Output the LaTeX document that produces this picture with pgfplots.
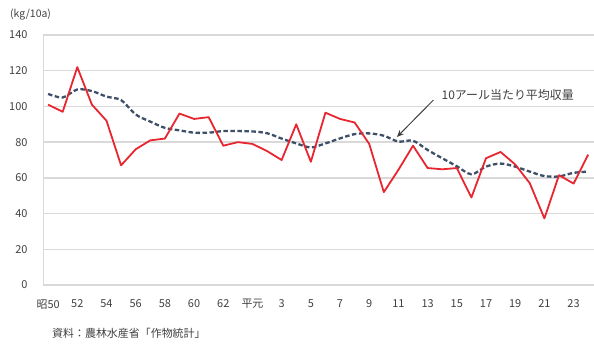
\documentclass[border=0pt]{standalone}
\usepackage{pgfplots}
\pgfplotsset{compat=1.18}
\usetikzlibrary{arrows.meta}
\usepackage{fontspec}
\setmainfont{Noto Sans CJK JP}

\definecolor{yieldred}{RGB}{232,38,48}
\definecolor{avgblue}{RGB}{62,80,104}
\definecolor{gridgray}{RGB}{217,217,217}
\definecolor{labelgray}{RGB}{64,64,64}

% 10a yield by year, Showa 50 (index 0) to Heisei 24 (index 37)
\pgfplotstableread{
idx actual average
0  101 107
1  97  105
2  122 109.5
3  101 108.6
4  92  105.5
5  67  103.5
6  76  95.5
7  81  91.5
8  82  88
9  96  86.6
10 93  85.3
11 94  85.3
12 78  86.2
13 80  86.2
14 79  86
15 75  85
16 70  82
17 90  79.3
18 69  77
19 96.5 79.3
20 93  82.1
21 91  84.5
22 79  84.9
23 52  83.6
24 64.5 80.3
25 78  80.8
26 65.5 75.6
27 64.8 71
28 65.5 66.5
29 49  62
30 71  66.3
31 74.5 68
32 67.5 66.3
33 57  63.5
34 37.3 61
35 61.5 60.8
36 56.8 62.8
37 73  63.5
}\yielddata

\begin{document}
\begin{tikzpicture}[x=1bp,y=1bp]
\useasboundingbox (0,0) rectangle (594,346);
\begin{axis}[
  at={(43bp,61bp)}, anchor=south west,
  scale only axis, width=551bp, height=250bp,
  xmin=-0.35, xmax=37.4, ymin=0, ymax=140,
  axis lines*=left,
  axis line style={gridgray, line width=1bp},
  xtick={0,2,...,36},
  xticklabels={昭50,52,54,56,58,60,62,平元,3,5,7,9,11,13,15,17,19,21,23},
  ytick={0,20,...,140},
  ymajorgrids,
  grid style={gridgray, line width=1.3bp},
  major tick length=0pt,
  tick label style={font=\fontsize{11}{13}\selectfont, text=labelgray},
  /pgf/number format/assume math mode=true,
  yticklabel style={xshift=-12bp},
  xticklabel style={yshift=-11bp},
  clip=false,
]
\addplot[avgblue, line width=2.3bp, dash pattern=on 4.5bp off 2.5bp, smooth, tension=0.5]
  table[x=idx, y=average] {\yielddata};
\addplot[yieldred, line width=1.8bp, line join=round]
  table[x=idx, y=actual] {\yielddata};
\draw[-{Stealth[length=7bp,width=6bp]}, labelgray, line width=1bp]
  (axis cs:26.4,103.6) -- (axis cs:23.9,82.9);
\node[anchor=west, inner sep=0pt, text=labelgray, font=\fontsize{12}{14}\selectfont]
  at (axis cs:26.95,106.4) {10アール当たり平均収量};
\end{axis}
\node[anchor=west, inner sep=0pt, text=labelgray, font=\fontsize{10.5}{12}\selectfont]
  at (10,331) {(kg/10a)};
\node[anchor=west, inner sep=0pt, text=labelgray, font=\fontsize{11}{13}\selectfont]
  at (52,13) {資料：農林水産省「作物統計」};
\end{tikzpicture}
\end{document}
